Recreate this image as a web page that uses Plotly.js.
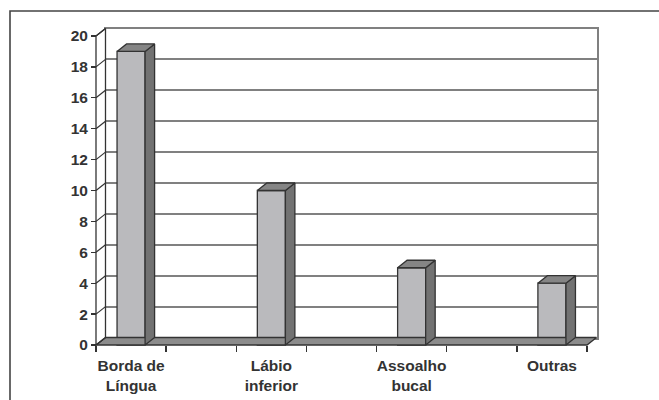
<!DOCTYPE html>
<html>
<head>
<meta charset="utf-8">
<script src="https://cdn.plot.ly/plotly-3.0.1.min.js"></script>
<style>html,body{margin:0;padding:0;background:#fff;}#chart{width:659px;height:400px;}</style>
</head>
<body>
<div id="chart"></div>
<script>
// ---- data ----
const categories = ["Borda de<br>Língua", "Lábio<br>inferior", "Assoalho<br>bucal", "Outras"];
const values = [19, 10, 5, 4];
const yTicks = [0, 2, 4, 6, 8, 10, 12, 14, 16, 18, 20];
const xMinorTicks = [-0.25, 0.25, 0.75, 1.25, 1.75, 2.25, 2.75, 3.25];

// ---- geometry (pixels in the 659x400 canvas) ----
const W = 659, H = 400;
const pxX0 = 96, pxX1 = 587;      // front x range ends (-0.25 .. 3.25)
const pxY0 = 345, pxY20 = 36;     // front y = 0 and y = 20
const xLo = -0.25, xHi = 3.25;
const ux = (pxX1 - pxX0) / (xHi - xLo);
const uy = (pxY0 - pxY20) / 20;
const depthPx = 9.5, riseDepthPx = 7.5;
const dx = depthPx / ux, dy = riseDepthPx / uy;
const barW = 0.2;

// front axes extended range so polygons are not clipped
const fxR = [xLo - 0.15, xHi + 0.2], fyR = [-0.5, 21];
const fDomX = [(pxX0 - 0.15 * ux) / W, (pxX1 + 0.2 * ux) / W];
const fDomY = [1 - (pxY0 + 0.5 * uy) / H, 1 - (pxY0 - 21 * uy) / H];
// back wall axes
const bDomX = [(pxX0 + depthPx) / W, (pxX1 + depthPx) / W];
const bDomY = [1 - (pxY0 - riseDepthPx) / H, 1 - (pxY20 - riseDepthPx) / H];

const edge = '#333333';
const idx = categories.map((_, i) => i);

// faces of bars
const topX = [], topY = [], sideX = [], sideY = [];
idx.forEach(i => {
  const l = i - barW / 2, r = i + barW / 2, v = values[i];
  topX.push(l, r, r + dx, l + dx, l, null);
  topY.push(v, v, v + dy, v + dy, v, null);
  sideX.push(r, r, r + dx, r + dx, r, null);
  sideY.push(0, v, v + dy, dy, 0, null);
});
// tick connectors on the left wall
const connX = [], connY = [];
yTicks.forEach(t => { connX.push(xLo, xLo + dx, null); connY.push(t, t + dy, null); });

const traces = [
  // dummy to materialise back wall axes
  {x: [0], y: [0], xaxis: 'x', yaxis: 'y', mode: 'markers', marker: {opacity: 0}, hoverinfo: 'skip', showlegend: false},
  // floor
  {x: [xLo, xHi, xHi + dx, xLo + dx, xLo], y: [0, 0, dy, dy, 0], xaxis: 'x2', yaxis: 'y2',
   mode: 'lines', fill: 'toself', fillcolor: '#8c8c8c', line: {color: edge, width: 1.3}, hoverinfo: 'skip', showlegend: false},
  // left wall
  {x: [xLo, xLo, xLo + dx, xLo + dx, xLo], y: [0, 20, 20 + dy, dy, 0], xaxis: 'x2', yaxis: 'y2',
   mode: 'lines', fill: 'toself', fillcolor: '#ffffff', line: {color: edge, width: 1.3}, hoverinfo: 'skip', showlegend: false},
  {x: connX, y: connY, xaxis: 'x2', yaxis: 'y2', mode: 'lines', line: {color: edge, width: 1.2},
   hoverinfo: 'skip', showlegend: false},
  // bar front faces
  {type: 'bar', x: idx, y: values, width: barW, xaxis: 'x2', yaxis: 'y2',
   marker: {color: '#bababd', line: {color: edge, width: 1.3}}, hoverinfo: 'skip', showlegend: false},
  // bar sides
  {x: sideX, y: sideY, xaxis: 'x2', yaxis: 'y2', mode: 'lines', fill: 'toself', fillcolor: '#727272',
   line: {color: edge, width: 1.3}, hoverinfo: 'skip', showlegend: false},
  // bar tops
  {x: topX, y: topY, xaxis: 'x2', yaxis: 'y2', mode: 'lines', fill: 'toself', fillcolor: '#858585',
   line: {color: edge, width: 1.3}, hoverinfo: 'skip', showlegend: false},
  // dummy for label axis
  {x: [0], y: [0], xaxis: 'x3', yaxis: 'y2', mode: 'markers', marker: {opacity: 0}, hoverinfo: 'skip', showlegend: false}
];

const tickFont = {family: 'Liberation Sans, Arial, sans-serif', size: 15.5, color: '#333333', weight: 'bold'};

const layout = {
  width: W, height: H,
  margin: {l: 0, r: 0, t: 0, b: 0},
  paper_bgcolor: '#ffffff', plot_bgcolor: 'rgba(0,0,0,0)',
  showlegend: false,
  xaxis: {domain: bDomX, range: [xLo, xHi], anchor: 'y', showgrid: false, zeroline: false,
          showticklabels: false, ticks: '', showline: true, mirror: true, linecolor: '#808080', linewidth: 2},
  yaxis: {domain: bDomY, range: [0, 20], anchor: 'x', showgrid: true, gridcolor: '#808080', gridwidth: 2,
          tickvals: yTicks, zeroline: false, showticklabels: false, ticks: '',
          showline: true, mirror: true, linecolor: '#808080', linewidth: 2},
  xaxis2: {domain: fDomX, range: fxR, anchor: 'free', position: 1 - pxY0 / H, showgrid: false, zeroline: false,
           showline: false, tickvals: xMinorTicks, ticks: 'outside', ticklen: 6, tickwidth: 1.3,
           tickcolor: edge, showticklabels: false},
  xaxis3: {domain: fDomX, range: fxR, overlaying: 'x2', anchor: 'free', position: 1 - pxY0 / H,
           showgrid: false, zeroline: false, showline: false, tickvals: idx, ticktext: categories,
           ticks: 'outside', ticklen: 6, tickcolor: 'rgba(0,0,0,0)', tickfont: tickFont},
  yaxis2: {domain: fDomY, range: fyR, anchor: 'free', position: pxX0 / W, showgrid: false, zeroline: false,
           showline: false, tickvals: yTicks, ticks: 'outside', ticklen: 5, tickwidth: 1.3, tickcolor: edge,
           tickfont: tickFont},
  shapes: [
    {type: 'rect', xref: 'paper', yref: 'paper', x0: 10 / W, x1: 1.05, y0: -0.05, y1: 1 - 11 / H,
     line: {color: '#444444', width: 1.6}, fillcolor: 'rgba(0,0,0,0)', layer: 'below'}
  ]
};

Plotly.newPlot('chart', traces, layout, {staticPlot: true, displayModeBar: false});
</script>
</body>
</html>
